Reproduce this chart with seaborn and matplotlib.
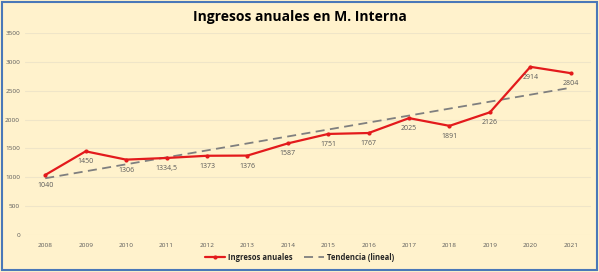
import numpy as np
import pandas as pd
import seaborn as sns
import matplotlib.pyplot as plt
from matplotlib.patches import Rectangle

years = [2008, 2009, 2010, 2011, 2012, 2013, 2014, 2015, 2016, 2017, 2018, 2019, 2020, 2021]
ingresos = [1040, 1450, 1306, 1334.5, 1373, 1376, 1587, 1751, 1767, 2025, 1891, 2126, 2914, 2804]
labels = ["1040", "1450", "1306", "1334,5", "1373", "1376", "1587", "1751", "1767",
          "2025", "1891", "2126", "2914", "2804"]

df = pd.DataFrame({"pos": range(len(years)), "year": years, "valor": ingresos})

# linear trendline, like the spreadsheet one
coef = np.polyfit(df["pos"], df["valor"], 1)
df["tendencia"] = np.polyval(coef, df["pos"])

sns.set_style("white")
plt.rcParams["font.family"] = ["Open Sans", "DejaVu Sans"]

bg = "#FFF2CC"
fig = plt.figure(figsize=(5.99, 2.72), dpi=100, facecolor=bg)
ax = fig.add_axes([25 / 599, 1 - 235 / 272, 566 / 599, 202 / 272])
ax.set_facecolor(bg)

sns.lineplot(x="pos", y="tendencia", data=df, ax=ax, color="#7F7F7F", lw=1.3,
             linestyle=(0, (5, 3)), label="Tendencia (lineal)", zorder=2)
sns.lineplot(x="pos", y="valor", data=df, ax=ax, color="#E31A1C", lw=1.6,
             marker="o", markersize=3, markeredgewidth=0, label="Ingresos anuales", zorder=3)

for i, (v, t) in enumerate(zip(ingresos, labels)):
    ax.annotate(t, (i, v), xytext=(0, -5), textcoords="offset points",
                ha="center", va="top", fontsize=5, color="#595959")

ax.set_xlim(-0.5, len(years) - 0.5)
ax.set_ylim(0, 3500)
ax.set_xticks(range(len(years)))
ax.set_xticklabels([str(y) for y in years])
ax.set_yticks(range(0, 3501, 500))
ax.tick_params(axis="both", labelsize=4.6, colors="#595959", length=0)
ax.tick_params(axis="x", pad=6)
ax.tick_params(axis="y", pad=3.5)
ax.grid(axis="y", color="#EFE5C8", lw=0.8)
ax.set_axisbelow(True)
for s in ax.spines.values():
    s.set_visible(False)
ax.set_xlabel("")
ax.set_ylabel("")

handles, lbls = ax.get_legend_handles_labels()
ax.legend(handles[::-1], lbls[::-1], loc="center", bbox_to_anchor=(0.5, 1 - 257 / 272),
          bbox_transform=fig.transFigure, ncol=2, frameon=False,
          handlelength=2.6, handletextpad=0.3, columnspacing=1.6,
          prop={"weight": "bold", "size": 5.5})

fig.text(0.5, 1 - 17 / 272, "Ingresos anuales en M. Interna", ha="center", va="center",
         fontsize=10, fontweight="bold", color="black")

fig.patches.append(Rectangle((0.004, 0.008), 0.992, 0.984, transform=fig.transFigure,
                             fill=False, edgecolor="#4A78B8", lw=1.5))

fig.savefig("out.png", dpi=100, facecolor=bg)
